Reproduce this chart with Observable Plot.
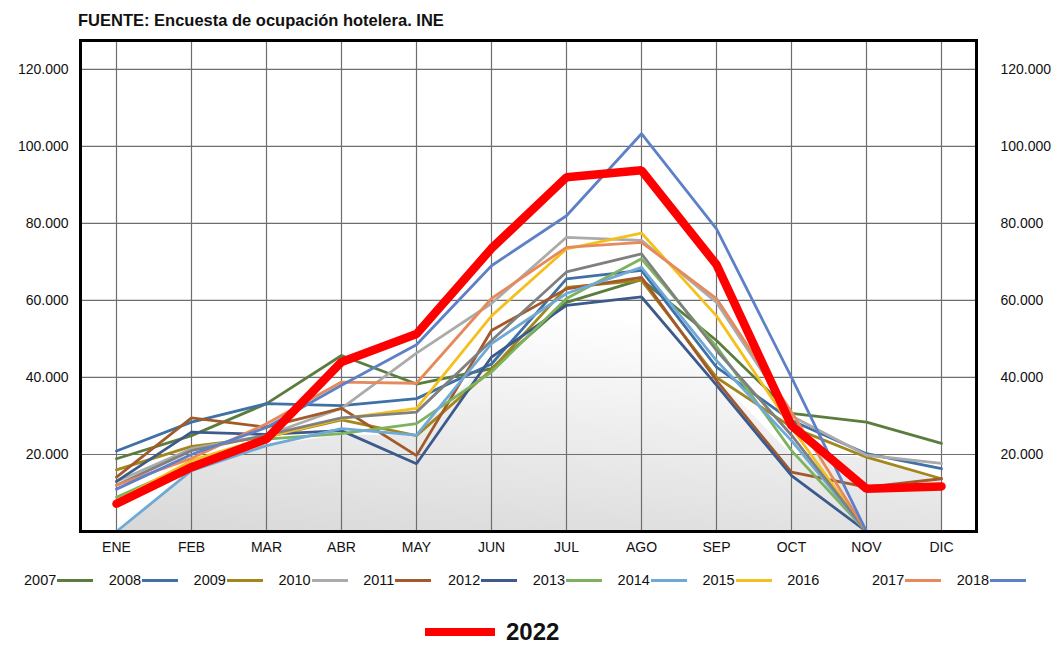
<!DOCTYPE html>
<html>
<head>
<meta charset="utf-8">
<script src="https://cdn.jsdelivr.net/npm/d3@7"></script>
<script src="https://cdn.jsdelivr.net/npm/@observablehq/plot@0.6"></script>
<style>
  html, body { margin: 0; padding: 0; background: #ffffff; }
  body { width: 1062px; height: 645px; position: relative; overflow: hidden; font-family: "Liberation Sans", Arial, sans-serif; color: #111; }
  #titulo { height: 30px; box-sizing: border-box; padding-left: 78px; padding-top: 11px; font-size: 16.5px; font-weight: bold; line-height: 18px; white-space: nowrap; }
  #chart svg { display: block; }
  #leyenda { position: absolute; left: 24px; top: 570px; display: flex; font-size: 14.5px; }
  .item { width: 84.8px; display: flex; align-items: center; height: 20px; }
  .muestra { width: 36px; height: 3px; margin-left: 1px; }
  #ley2022 { position: absolute; left: 425px; top: 619px; display: flex; align-items: center; height: 26px; }
  #ley2022 .barra { width: 70px; height: 8px; background: #ff0000; }
  #ley2022 span { font-size: 24px; font-weight: bold; margin-left: 11px; line-height: 26px; }
</style>
</head>
<body>
<div id="titulo">FUENTE: Encuesta de ocupación hotelera. INE</div>
<div id="chart"></div>
<div id="leyenda"></div>
<div id="ley2022"><div class="barra"></div><span>2022</span></div>
<script>
const meses = ["ENE","FEB","MAR","ABR","MAY","JUN","JUL","AGO","SEP","OCT","NOV","DIC"];
const anios = ["2007","2008","2009","2010","2011","2012","2013","2014","2015","2016","2017","2018"];
const colores = ["#5a7d3e","#3f70a6","#a3871c","#ababab","#a25a2a","#3c5a8c","#7db35e","#6fa9d6","#f4c01e","#808080","#e68a5c","#5e80c6"];
const sinMuestra = ["2016"];
const ticksY = [20000, 40000, 60000, 80000, 100000, 120000];

const v2007 = [18900, 24900, 33200, 45700, 38300, 42300, 59500, 65400, 49600, 30700, 28400, 22900];
const v2008 = [20900, 28400, 33200, 32700, 34500, 43500, 65600, 67800, 42700, 28800, 20200, 16300];
const v2009 = [16000, 22100, 24500, 29000, 24900, 42000, 63400, 65200, 40000, 27100, 19300, 13700];
const v2010 = [13000, 21500, 25000, 32000, 46300, 59200, 76400, 75600, 59500, 30000, 19800, 17700];
const v2011 = [14100, 29500, 27100, 32000, 19700, 52200, 63000, 66000, 39200, 15400, 11500, 13700];
const v2012 = [13000, 25800, 25200, 26200, 17600, 45300, 58700, 60900, 38000, 14500, 0, 0];
const v2013 = [8900, 17600, 24000, 25400, 28000, 41400, 60500, 70800, 48000, 21000, 0, 0];
const v2014 = [0, 15800, 22300, 26700, 25000, 48800, 61800, 68600, 44400, 23600, 0, 0];
const v2015 = [8000, 18400, 24500, 29300, 32000, 56000, 73400, 77500, 56000, 27000, 0, 0];
const v2016 = [12000, 21000, 25000, 29500, 31000, 49600, 67400, 72100, 47000, 25000, 0, 0];
const v2017 = [12000, 19000, 28000, 38800, 38500, 60500, 73800, 75100, 60500, 31000, 0, 0];
const v2018 = [11000, 20000, 27000, 38000, 48500, 69000, 82000, 103300, 78600, 40000, 0, 0];
const v2022 = [7200, 16700, 24000, 44000, 51300, 73500, 92000, 93800, 69300, 27500, 11100, 11700];
const sombra = [0, 15800, 22300, 25000, 25000, 45000, 60000, 62000, 40000, 20000, 19300, 13000];

const series = [v2007, v2008, v2009, v2010, v2011, v2012, v2013, v2014, v2015, v2016, v2017, v2018];
const filas = [];
anios.forEach((a, i) => meses.forEach((m, j) => filas.push({anio: a, mes: m, valor: series[i][j]})));
const filas2022 = meses.map((m, j) => ({mes: m, valor: v2022[j]}));
const filasSombra = meses.map((m, j) => ({mes: m, valor: sombra[j]}));

const fmt = d => d3.format(",")(d).replace(/,/g, ".");

const plot = Plot.plot({
  width: 1062,
  height: 536,
  marginTop: 10,
  marginLeft: 80,
  marginRight: 86,
  marginBottom: 35,
  style: {fontFamily: "'Liberation Sans', Arial, sans-serif", fontSize: "14px", color: "#111", background: "transparent"},
  x: {type: "point", domain: meses, range: [114, 942], padding: 0, label: null},
  y: {domain: [0, 127500], label: null},
  color: {domain: anios, range: colores},
  marks: [
    Plot.areaY(filasSombra, {x: "mes", y: "valor", fill: "url(#gradSombra)"}),
    Plot.gridX(meses, {stroke: "#6e6e6e", strokeOpacity: 1, strokeWidth: 1.2}),
    Plot.gridY(ticksY, {stroke: "#6e6e6e", strokeOpacity: 1, strokeWidth: 1.2}),
    Plot.lineY(filas, {x: "mes", y: "valor", z: "anio", stroke: "anio", strokeWidth: 2.8, strokeLinejoin: "miter"}),
    Plot.lineY(filas2022, {x: "mes", y: "valor", stroke: "#ff0000", strokeWidth: 8.5, strokeLinejoin: "miter"}),
    Plot.frame({stroke: "#000", strokeWidth: 3}),
    Plot.axisY(ticksY, {anchor: "left", tickSize: 0, tickPadding: 12, tickFormat: fmt, fontSize: 14}),
    Plot.axisY(ticksY, {anchor: "right", tickSize: 0, tickPadding: 24, tickFormat: fmt, fontSize: 14}),
    Plot.axisX(meses, {anchor: "bottom", tickSize: 0, tickPadding: 11, fontSize: 14})
  ]
});

const svg = d3.select(plot);
const defs = svg.insert("defs", ":first-child");
const g = defs.append("linearGradient").attr("id", "gradSombra").attr("x1", 0).attr("y1", 1).attr("x2", 0.3).attr("y2", 0);
g.append("stop").attr("offset", "0%").attr("stop-color", "#d8d8d8");
g.append("stop").attr("offset", "100%").attr("stop-color", "#ffffff");
document.getElementById("chart").appendChild(plot);

const ley = d3.select("#leyenda");
anios.forEach((a, i) => {
  const it = ley.append("div").attr("class", "item");
  it.append("span").text(a);
  if (!sinMuestra.includes(a)) it.append("div").attr("class", "muestra").style("background", colores[i]);
});
</script>
</body>
</html>
